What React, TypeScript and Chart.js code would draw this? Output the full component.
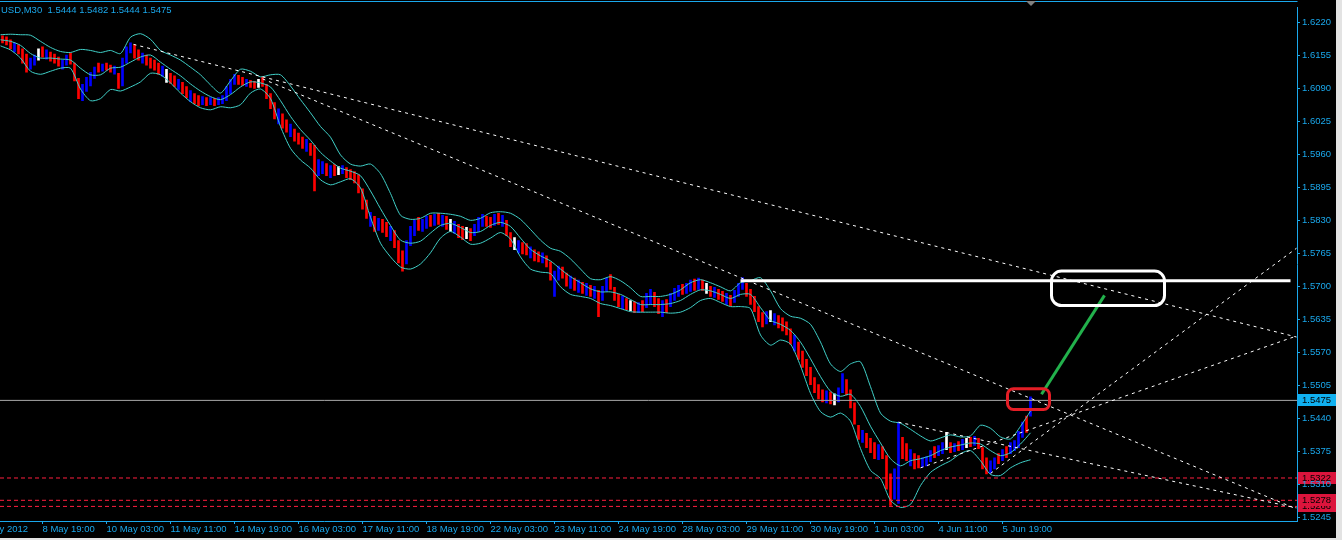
import React, { useEffect, useRef } from 'react';
import { Chart, registerables } from 'chart.js';

Chart.register(...registerables);

// ---------- text / ticks ----------
const titleText = 'USD,M30  1.5444 1.5482 1.5444 1.5475';
const priceTicks = [1.5245, 1.531, 1.5375, 1.544, 1.5505, 1.557, 1.5635, 1.57, 1.5765, 1.583, 1.5895, 1.596, 1.6025, 1.609, 1.6155, 1.622];
const timeLabels = ['7 May 2012', '8 May 19:00', '10 May 03:00', '11 May 11:00', '14 May 19:00', '16 May 03:00', '17 May 11:00', '18 May 19:00', '22 May 03:00', '23 May 11:00', '24 May 19:00', '28 May 03:00', '29 May 11:00', '30 May 19:00', '1 Jun 03:00', '4 Jun 11:00', '5 Jun 19:00'];
const timeTickBars = [-22, 42, 106, 170, 234, 298, 362, 426, 490, 554, 618, 682, 746, 810, 874, 938, 1002];

// ---------- price bars (each bar = 4 x M30) ----------
const barHighs = [
  1.6194, 1.6192, 1.6186, 1.618, 1.6176, 1.6168, 1.6158, 1.615, 1.6156, 1.6168,
  1.6172, 1.6166, 1.6162, 1.6158, 1.6152, 1.6146, 1.6156, 1.616, 1.614, 1.611,
  1.6098, 1.6112, 1.6122, 1.6132, 1.614, 1.6138, 1.614, 1.6136, 1.6134, 1.612,
  1.615, 1.6172, 1.618, 1.6176, 1.6166, 1.616, 1.6156, 1.615, 1.6146, 1.614,
  1.6134, 1.6128, 1.612, 1.6115, 1.6108, 1.6102, 1.6094, 1.6086, 1.608, 1.6076,
  1.6074, 1.6072, 1.6072, 1.607, 1.6072, 1.6076, 1.6094, 1.6108, 1.6118, 1.6116,
  1.6112, 1.6108, 1.6106, 1.6104, 1.6108, 1.6112, 1.6098, 1.608, 1.6062, 1.605,
  1.604, 1.6028, 1.602, 1.601, 1.6002, 1.5994, 1.599, 1.5982, 1.5978, 1.595,
  1.5946, 1.5942, 1.5938, 1.594, 1.5936, 1.5938, 1.5934, 1.593, 1.5926, 1.592,
  1.5892, 1.587, 1.5846, 1.5838, 1.5834, 1.5832, 1.5826, 1.5818, 1.581, 1.579,
  1.577, 1.579, 1.5818, 1.583, 1.5836, 1.5832, 1.5838, 1.584, 1.5842, 1.5844,
  1.584, 1.5838, 1.5832, 1.5828, 1.5822, 1.5818, 1.5816, 1.5814, 1.5822, 1.5836,
  1.5842, 1.5838, 1.5836, 1.5842, 1.5844, 1.584, 1.583, 1.5806, 1.5796, 1.579,
  1.5786, 1.5784, 1.5778, 1.5772, 1.5768, 1.5766, 1.576, 1.5748, 1.573, 1.574,
  1.5738, 1.5726, 1.572, 1.5716, 1.5712, 1.5708, 1.5706, 1.5702, 1.57, 1.5692,
  1.57, 1.5716, 1.5723, 1.5698, 1.5684, 1.568, 1.5676, 1.5672, 1.567, 1.5668,
  1.5672, 1.5686, 1.5694, 1.5688, 1.5676, 1.5672, 1.5674, 1.5686, 1.5696, 1.5702,
  1.5704, 1.5706, 1.5712, 1.5714, 1.5716, 1.5712, 1.5706, 1.57, 1.5698, 1.5694,
  1.569, 1.5686, 1.5682, 1.5692, 1.5706, 1.5717, 1.5706, 1.5694, 1.568, 1.566,
  1.5648, 1.565, 1.5652, 1.5646, 1.5642, 1.5638, 1.563, 1.5616, 1.5604, 1.559,
  1.5572, 1.5556, 1.554, 1.552, 1.5506, 1.5496, 1.5494, 1.5492, 1.5488, 1.55,
  1.5528, 1.5516, 1.5496, 1.547, 1.5426, 1.5416, 1.541, 1.54, 1.5392, 1.5388,
  1.5384, 1.5366, 1.533, 1.534, 1.5432, 1.5402, 1.539, 1.5378, 1.537, 1.5366,
  1.5362, 1.5364, 1.5376, 1.5384, 1.5386, 1.5392, 1.5412, 1.5392, 1.539, 1.5394,
  1.5398, 1.54, 1.5402, 1.5404, 1.54, 1.5382, 1.5362, 1.5356, 1.5362, 1.537,
  1.5378, 1.5384, 1.5392, 1.5396, 1.5414, 1.5432, 1.5444, 1.5482,
];
const barLows = [
  1.618, 1.6176, 1.6168, 1.6162, 1.6158, 1.614, 1.6122, 1.6128, 1.6136, 1.6146,
  1.6152, 1.6148, 1.6144, 1.614, 1.6134, 1.6128, 1.6136, 1.6138, 1.6105, 1.607,
  1.6066, 1.6084, 1.6095, 1.611, 1.6122, 1.6124, 1.6126, 1.6122, 1.6118, 1.609,
  1.6095, 1.614, 1.616, 1.615, 1.6146, 1.614, 1.6136, 1.613, 1.6126, 1.6118,
  1.6114, 1.6102, 1.61, 1.6094, 1.6088, 1.608, 1.6072, 1.6064, 1.606, 1.6056,
  1.6058, 1.6056, 1.6058, 1.6056, 1.6058, 1.606, 1.6066, 1.608, 1.6098, 1.6098,
  1.6096, 1.6094, 1.6092, 1.609, 1.6092, 1.6094, 1.607, 1.605, 1.603, 1.602,
  1.6012, 1.6004, 1.5995, 1.5986, 1.598, 1.5972, 1.5966, 1.5958, 1.5888, 1.5918,
  1.5922, 1.5918, 1.5914, 1.5918, 1.592, 1.5922, 1.5914, 1.591, 1.5904, 1.5884,
  1.5852, 1.5834, 1.5818, 1.5808, 1.581, 1.5806, 1.5798, 1.579, 1.5776, 1.5746,
  1.573, 1.5744, 1.578, 1.58, 1.581, 1.5808, 1.5814, 1.5818, 1.582, 1.5822,
  1.5818, 1.5812, 1.5808, 1.5804, 1.5796, 1.5792, 1.5794, 1.579, 1.58, 1.5808,
  1.5818, 1.5818, 1.5816, 1.582, 1.5822, 1.5818, 1.58, 1.5778, 1.5772, 1.5766,
  1.5764, 1.5762, 1.5756, 1.575, 1.5748, 1.5746, 1.5738, 1.5712, 1.568, 1.5712,
  1.5716, 1.57, 1.5696, 1.5692, 1.5688, 1.5686, 1.5682, 1.568, 1.5676, 1.564,
  1.5672, 1.569, 1.5694, 1.5672, 1.566, 1.5656, 1.5654, 1.5652, 1.5648, 1.5648,
  1.565, 1.5658, 1.5664, 1.566, 1.5646, 1.564, 1.5648, 1.566, 1.5672, 1.568,
  1.5684, 1.5686, 1.569, 1.5692, 1.5694, 1.5692, 1.5686, 1.568, 1.5678, 1.5674,
  1.567, 1.5664, 1.5662, 1.5668, 1.568, 1.5694, 1.568, 1.5664, 1.565, 1.563,
  1.562, 1.5626, 1.563, 1.5624, 1.5618, 1.5612, 1.5604, 1.5586, 1.5572, 1.5556,
  1.554, 1.5524, 1.5506, 1.549, 1.5478, 1.5472, 1.547, 1.5468, 1.5466, 1.5472,
  1.549, 1.5486, 1.546, 1.5428, 1.5398, 1.5392, 1.5382, 1.5372, 1.536, 1.5358,
  1.536, 1.53, 1.5268, 1.528, 1.5272, 1.536, 1.5356, 1.5346, 1.534, 1.5342,
  1.5344, 1.5346, 1.5354, 1.5362, 1.5366, 1.537, 1.5378, 1.5372, 1.5374, 1.5376,
  1.5378, 1.5382, 1.5384, 1.5386, 1.538, 1.534, 1.533, 1.5332, 1.534, 1.535,
  1.5356, 1.5362, 1.537, 1.5376, 1.5382, 1.5402, 1.5412, 1.5444,
];
// u = bull (blue), d = bear (red), w = doji (white)
const barDirs = (
  'ddduddduuw' + 'duddduuddd' + 'uuuududdud' + 'uuuddudddd' + 'uwdduddudd' +
  'ududuuuuud' + 'duddwddddu' + 'dduddduddu' + 'ududwudddd' + 'ddududdudd' +
  'duuuduudud' + 'udwuddwduu' + 'uddududdwu' + 'dduddudduu' + 'ddudududud' +
  'uudddudwdu' + 'duudduduuu' + 'duududwdud' + 'duduuudddd' + 'duwuddddud' +
  'ddddddudwu' + 'uddddudddu' + 'ddduuddudd' + 'uuuduuwdud' + 'uwduddduud' +
  'uduuuudu'
).split('');

// ---------- Bollinger bands, sampled every 10 bars ----------
const bandUpper = [
  1.6196, 1.6197, 1.6196, 1.6195, 1.6183, 1.6171, 1.6163, 1.6161, 1.6167, 1.6165,
  1.6161, 1.6165, 1.6159, 1.6191, 1.6198, 1.6187, 1.6165, 1.6156, 1.6146, 1.6132,
  1.6117, 1.6097, 1.6081, 1.6105, 1.6128, 1.6124, 1.6113, 1.6117, 1.6117, 1.6095,
  1.6068, 1.6042, 1.6015, 1.5994, 1.5959, 1.5941, 1.5937, 1.5941, 1.5922, 1.5883,
  1.584, 1.5832, 1.5834, 1.5844, 1.5844, 1.5842, 1.5838, 1.583, 1.5834, 1.5845,
  1.5847, 1.5844, 1.5832, 1.5812, 1.5791, 1.5775, 1.5769, 1.5754, 1.5734, 1.5715,
  1.5713, 1.5719, 1.5711, 1.5697, 1.568, 1.568, 1.568, 1.5684, 1.5693, 1.5707,
  1.5713, 1.5707, 1.5699, 1.5691, 1.5707, 1.5711, 1.5717, 1.5691, 1.5656, 1.5641,
  1.5637, 1.5625, 1.559, 1.5547, 1.5532, 1.5547, 1.5551, 1.5502, 1.545, 1.5434,
  1.543, 1.5418, 1.5405, 1.5395, 1.5401, 1.5407, 1.5403, 1.5405, 1.5426, 1.542,
  1.5403, 1.5399, 1.5424, 1.5454,
];
const bandMiddle = [
  1.6186, 1.6183, 1.6175, 1.6159, 1.615, 1.615, 1.6148, 1.6146, 1.613, 1.6117,
  1.6117, 1.613, 1.6132, 1.6142, 1.6152, 1.6156, 1.6142, 1.6128, 1.6115, 1.6099,
  1.6085, 1.6074, 1.6068, 1.6078, 1.6093, 1.6103, 1.6101, 1.6093, 1.6066, 1.6035,
  1.6009, 1.5988, 1.5964, 1.5947, 1.5933, 1.5927, 1.5918, 1.5888, 1.5853, 1.582,
  1.5791, 1.5785, 1.5789, 1.5805, 1.582, 1.5824, 1.5816, 1.5806, 1.5808, 1.582,
  1.5826, 1.5818, 1.5795, 1.5773, 1.576, 1.575, 1.5734, 1.5719, 1.5707, 1.5695,
  1.5689, 1.5689, 1.5684, 1.5674, 1.5664, 1.5664, 1.5664, 1.5666, 1.5672, 1.5684,
  1.5693, 1.5691, 1.5684, 1.5676, 1.5684, 1.5684, 1.5658, 1.5633, 1.5625, 1.5613,
  1.559, 1.5557, 1.5522, 1.5493, 1.5483, 1.5487, 1.5463, 1.5424, 1.5391, 1.536,
  1.5346, 1.5356, 1.536, 1.5366, 1.5376, 1.5383, 1.5387, 1.5391, 1.5389, 1.5376,
  1.5366, 1.5372, 1.5389, 1.5411,
];
const bandLower = [
  1.6174, 1.6166, 1.615, 1.6124, 1.6118, 1.6124, 1.613, 1.613, 1.6089, 1.6066,
  1.607, 1.6088, 1.6085, 1.6093, 1.6103, 1.612, 1.6117, 1.6101, 1.6081, 1.6064,
  1.6052, 1.6048, 1.6054, 1.6052, 1.6058, 1.6081, 1.6089, 1.607, 1.6015, 1.5972,
  1.5949, 1.5933, 1.591, 1.59, 1.5906, 1.5912, 1.5894, 1.5836, 1.5785, 1.5758,
  1.5738, 1.5734, 1.5744, 1.5766, 1.5795, 1.5808, 1.5797, 1.5783, 1.5785, 1.5795,
  1.5806, 1.5793, 1.5758, 1.5734, 1.5728, 1.5725, 1.5699, 1.5684, 1.568, 1.5676,
  1.5666, 1.5662, 1.5656, 1.565, 1.5649, 1.5649, 1.5649, 1.5647, 1.5649, 1.5658,
  1.5672, 1.5676, 1.5668, 1.566, 1.566, 1.5656, 1.5604, 1.5584, 1.5594, 1.5586,
  1.5543, 1.5489, 1.5453, 1.5442, 1.545, 1.5434, 1.538, 1.5337, 1.5321, 1.5278,
  1.5264, 1.527, 1.5307, 1.5333, 1.5346, 1.5356, 1.537, 1.5376, 1.5356, 1.5329,
  1.5327, 1.5342, 1.5352, 1.5358,
];

// ---------- objects drawn on the chart ----------
const bidPrice = 1.5475;
const alertLevels = [1.5322, 1.5278, 1.5266];
const tagLevels = [1.5266, 1.5278, 1.5322];
// [barFrom, priceFrom, barTo, priceTo]
const trendLines = [
  [133, 1.6177, 1296, 1.56],
  [262, 1.6109, 1296, 1.5261],
  [898, 1.5432, 1296, 1.5263],
  [990, 1.5331, 1296, 1.5775],
  [920, 1.5342, 1296, 1.5602],
];
const resistanceLine = [740, 1.5711, 1290, 1.5711];
const arrowLine = [1041, 1.5487, 1104, 1.5682];
const targetBox = [1051, 1.573, 1164, 1.5662];
const currentBox = [1007, 1.5498, 1049, 1.5457];

// ---------- styles ----------
const FONT_FAMILY = '"Liberation Sans", Arial, sans-serif';
const FONT_SIZE = 9.5;
const AXIS_COLOR = '#1aa8ec';
const TEXT_COLOR = '#1aa8ec';
const BAND_COLOR = '#40d0c8';
const RED = '#ff1f3f';

const mt4Plugin = {
  id: 'mt4',
  beforeDraw(chart: any) {
    const { ctx, width, height } = chart;
    const ys = chart.scales.y;
    ctx.save();
    ctx.fillStyle = '#000';
    ctx.fillRect(0, 0, width, height);
    ctx.font = `${FONT_SIZE}px ${FONT_FAMILY}`;
    ctx.textBaseline = 'middle';
    ctx.textAlign = 'left';
    const tag = (p: number, bg: string) => {
      const y = Math.round(ys.getPixelForValue(p));
      ctx.fillStyle = bg;
      ctx.fillRect(1298, y - 6, 38, 12);
      ctx.fillStyle = '#000';
      ctx.fillText(p.toFixed(4), 1302, y + 0.5);
    };
    tagLevels.forEach((p) => tag(p, '#dc143c'));
    tag(bidPrice, '#10b0f0');
    ctx.restore();
  },
  afterDatasetsDraw(chart: any) {
    const { ctx, chartArea } = chart;
    const xs = chart.scales.x;
    const ys = chart.scales.y;
    ctx.save();
    ctx.beginPath();
    ctx.rect(chartArea.left, chartArea.top, chartArea.right - chartArea.left, chartArea.bottom - chartArea.top);
    ctx.clip();
    const box = (b: number[], color: string, r: number) => {
      const x1 = xs.getPixelForValue(b[0]);
      const x2 = xs.getPixelForValue(b[2]);
      const y1 = ys.getPixelForValue(b[1]);
      const y2 = ys.getPixelForValue(b[3]);
      ctx.strokeStyle = color;
      ctx.lineWidth = 3;
      ctx.beginPath();
      (ctx as any).roundRect(Math.min(x1, x2), Math.min(y1, y2), Math.abs(x2 - x1), Math.abs(y2 - y1), r);
      ctx.stroke();
    };
    box(targetBox, '#ffffff', 10);
    box(currentBox, '#e41e26', 6);
    ctx.restore();
  },
  afterDraw(chart: any) {
    const { ctx, chartArea } = chart;
    const xs = chart.scales.x;
    ctx.save();
    ctx.fillStyle = AXIS_COLOR;
    ctx.fillRect(0, 1, chartArea.right + 0.5, 1);
    ctx.font = `${FONT_SIZE}px ${FONT_FAMILY}`;
    ctx.textBaseline = 'middle';
    ctx.textAlign = 'left';
    ctx.fillStyle = TEXT_COLOR;
    ctx.fillText(titleText, 1, 10);
    ctx.fillText(timeLabels[0], xs.getPixelForValue(timeTickBars[0]), 529.7);
    ctx.fillStyle = '#808080';
    ctx.beginPath();
    ctx.moveTo(1026, 1);
    ctx.lineTo(1036, 1);
    ctx.lineTo(1031, 6);
    ctx.closePath();
    ctx.fill();
    ctx.restore();
  },
};

function segment(l: number[], color: string, width: number, dash: number[], order: number) {
  return {
    type: 'line' as const,
    data: [{ x: l[0], y: l[1] }, { x: l[2], y: l[3] }],
    borderColor: color,
    borderWidth: width,
    borderDash: dash,
    pointRadius: 0,
    fill: false,
    order,
  };
}

export default function App() {
  const ref = useRef<HTMLCanvasElement>(null);
  useEffect(() => {
    document.body.style.margin = '0';
    document.body.style.background = '#e3e3e3';
    const barX = barHighs.map((_, i) => i * 4 + 2);
    const bandX = bandUpper.map((_, i) => i * 10);
    const barColor = barDirs.map((d) => (d === 'u' ? '#0000ff' : d === 'w' ? '#ffffff' : '#ff0000'));
    const bandSet = (vals: number[]) => ({
      type: 'line' as const,
      data: vals.map((v, i) => ({ x: bandX[i], y: v })),
      borderColor: BAND_COLOR,
      borderWidth: 1,
      pointRadius: 0,
      tension: 0.25,
      fill: false,
      order: 5,
    });
    const datasets: any[] = [
      {
        type: 'bar',
        data: barX.map((x, i) => ({ x, y: [barLows[i], barHighs[i]] })),
        backgroundColor: barColor,
        borderWidth: 0,
        barThickness: 2,
        order: 10,
      },
      bandSet(bandUpper),
      bandSet(bandMiddle),
      bandSet(bandLower),
      segment([-0.5, bidPrice, 1296.5, bidPrice], '#a8a8a8', 1, [], 6),
      ...alertLevels.map((p) => segment([-0.5, p, 1296.5, p], RED, 1, [4, 3], 4)),
      ...trendLines.map((l) => segment(l, '#ffffff', 1, [3, 4], 3)),
      segment(resistanceLine, '#ffffff', 3, [], 2),
      segment(arrowLine, '#22b14c', 3, [], 1),
    ];
    const font = { family: FONT_FAMILY, size: FONT_SIZE };
    const chart = new Chart(ref.current as HTMLCanvasElement, {
      type: 'bar',
      data: { datasets },
      options: {
        responsive: false,
        animation: false,
        devicePixelRatio: 1,
        events: [],
        layout: { padding: { top: 2, left: 0, right: 0, bottom: 0 } },
        plugins: { legend: { display: false }, tooltip: { enabled: false } },
        scales: {
          x: {
            type: 'linear',
            min: -0.5,
            max: 1296.5,
            offset: false,
            afterFit: (s: any) => { s.height = 17; },
            afterBuildTicks: (s: any) => { s.ticks = timeTickBars.slice(1).map((v) => ({ value: v })); },
            grid: { display: true, drawOnChartArea: false, drawTicks: true, tickLength: 3, color: AXIS_COLOR, offset: false },
            border: { display: true, color: AXIS_COLOR, width: 1 },
            ticks: {
              autoSkip: false, maxRotation: 0, minRotation: 0, align: 'start', padding: 0,
              color: TEXT_COLOR, font,
              callback: (_v: any, i: number) => timeLabels[i + 1],
            },
          },
          y: {
            type: 'linear',
            position: 'right',
            min: 1.52372,
            max: 1.62493,
            beginAtZero: false,
            afterFit: (s: any) => { s.width = 39; },
            afterBuildTicks: (s: any) => { s.ticks = priceTicks.map((v) => ({ value: v })); },
            grid: { display: true, drawOnChartArea: false, drawTicks: true, tickLength: 3, color: AXIS_COLOR },
            border: { display: true, color: AXIS_COLOR, width: 1 },
            ticks: {
              autoSkip: false, padding: 2, color: TEXT_COLOR, font,
              callback: (v: any) => Number(v).toFixed(4),
            },
          },
        },
      } as any,
      plugins: [mt4Plugin],
    });
    return () => chart.destroy();
  }, []);
  return (
    <div style={{ width: 1336, height: 538, background: '#000' }}>
      <canvas ref={ref} width={1336} height={538} style={{ display: 'block' }} />
    </div>
  );
}
